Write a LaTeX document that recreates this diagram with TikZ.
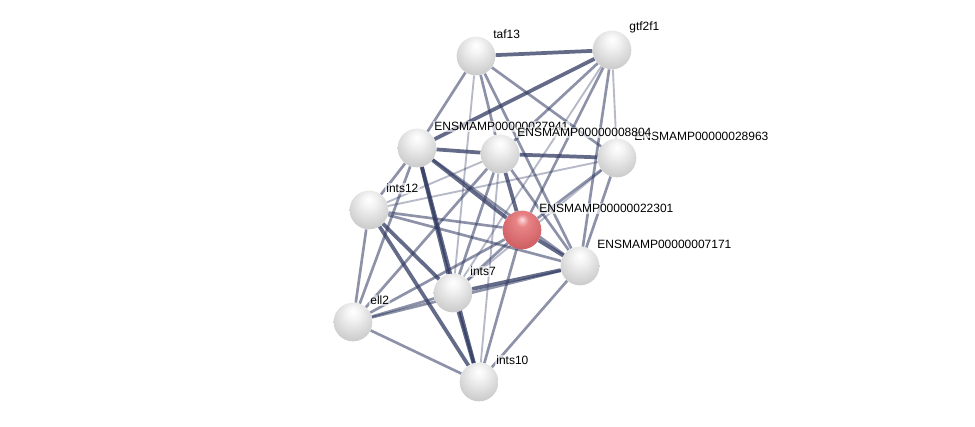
\documentclass[tikz,border=0pt]{standalone}
\usepackage{fontspec}
\setmainfont{Liberation Sans}
\usetikzlibrary{backgrounds}
\definecolor{edgeblue}{RGB}{48,58,98}
\definecolor{redA}{RGB}{252,222,222}
\definecolor{redB}{RGB}{232,132,134}
\definecolor{redC}{RGB}{208,96,100}
\definecolor{redD}{RGB}{150,48,52}
\pgfdeclareradialshading{greyball}{\pgfpoint{0bp}{14bp}}{%
  color(0bp)=(white); color(8bp)=(white!96!black); color(25bp)=(white!84!black);
  color(40bp)=(white!74!black); color(52bp)=(white!58!black); color(64bp)=(white!42!black)}
\pgfdeclareradialshading{redball}{\pgfpoint{0bp}{14bp}}{%
  color(0bp)=(redA); color(8bp)=(redB); color(30bp)=(redC);
  color(48bp)=(redC!85!black); color(64bp)=(redD)}
\begin{document}
\begin{tikzpicture}[x=0.75pt, y=-0.75pt,
    prot/.style={circle, minimum size=29pt, inner sep=0pt, shading=greyball},
    query/.style={prot, shading=redball},
    lbl/.style={font=\fontsize{9}{10}\selectfont, fill=white, fill opacity=0.6, text opacity=1, inner sep=1pt, label distance=2pt},
    weak/.style={edgeblue, line width=1.4pt, opacity=0.35},
    mid/.style={edgeblue, line width=2pt, opacity=0.55},
    strong/.style={edgeblue, line width=2.8pt, opacity=0.75}
]
\useasboundingbox (0,0) rectangle (975,426);

% proteins
\node[prot, label={[lbl]45:taf13}]                (taf13)  at (476,56)  {};
\node[prot, label={[lbl]45:gtf2f1}]               (gtf2f1) at (612,50)  {};
\node[prot, label={[lbl]45:ENSMAMP00000027941}]   (p27941) at (417,148) {};
\node[prot, label={[lbl]45:ENSMAMP00000028963}]   (p28963) at (617,158) {};
\node[prot, label={[lbl]45:ENSMAMP00000008804}]   (p8804)  at (500,154) {};
\node[prot, label={[lbl]45:ints12}]               (ints12) at (369,210) {};
\node[query, label={[lbl]45:ENSMAMP00000022301}]  (p22301) at (522,230) {};
\node[prot, label={[lbl]45:ENSMAMP00000007171}]   (p7171)  at (580,266) {};
\node[prot, label={[lbl]45:ints7}]                (ints7)  at (453,293) {};
\node[prot, label={[lbl]45:ell2}]                 (ell2)   at (353,322) {};
\node[prot, label={[lbl]45:ints10}]               (ints10) at (479,382) {};

% interactions
\begin{pgfonlayer}{background}
\fill[white] (0,0) rectangle (975,426);
\foreach \a/\b in {taf13/ints7, gtf2f1/p28963, p8804/ints12, p8804/ints10,
                   p28963/ints12, p28963/ints7, gtf2f1/ints7}
    \draw[weak] (\a) -- (\b);
\foreach \a/\b in {taf13/p27941, taf13/p8804, taf13/p28963, taf13/p7171,
                   gtf2f1/p8804, gtf2f1/p22301, gtf2f1/p7171,
                   p27941/ints12, p27941/ell2, p27941/p7171,
                   p8804/p7171, p8804/ell2, p8804/ints7,
                   p28963/p22301, p28963/p7171,
                   ints12/p22301, ints12/p7171, ints12/ell2,
                   p22301/ints7, p22301/ell2, p22301/ints10,
                   p7171/ell2, p7171/ints10, ints7/ell2, ell2/ints10}
    \draw[mid] (\a) -- (\b);
\foreach \a/\b in {taf13/gtf2f1, gtf2f1/p27941, p27941/p8804, p8804/p28963,
                   p27941/p22301, p27941/ints7, p27941/ints10, p8804/p22301,
                   p22301/p7171, ints12/ints7, ints12/ints10,
                   p7171/ints7, ints7/ints10}
    \draw[strong] (\a) -- (\b);
\end{pgfonlayer}
\end{tikzpicture}
\end{document}
